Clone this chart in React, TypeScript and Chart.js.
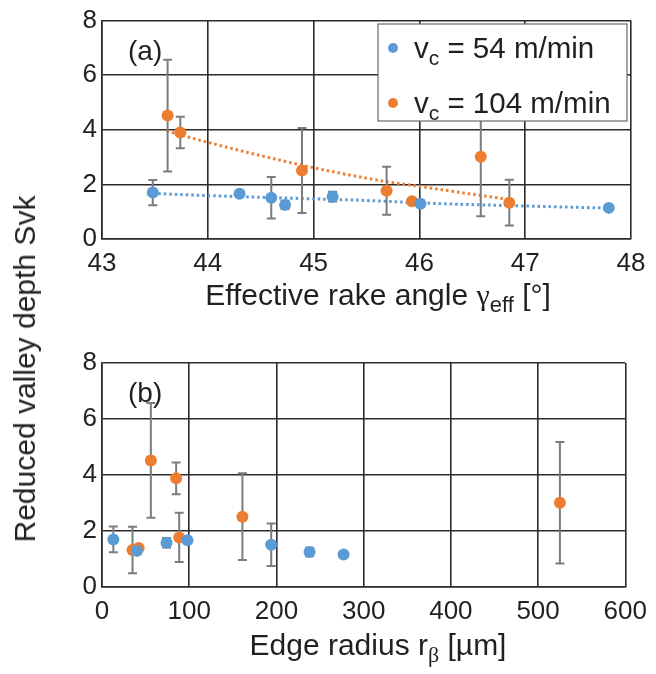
import React, { useEffect, useRef } from "react";
import { Chart, registerables } from "chart.js";

Chart.register(...registerables);

const FONT = '"Liberation Sans", Arial, Helvetica, sans-serif';
const SERIF = '"Liberation Serif", "Times New Roman", serif';
const TXT = "#231f20";
const GRID = "#2b2b2b";
const BLUE = "#5b9bd5";
const ORANGE = "#ed7d31";
const ERR = "#7a7d80";

// ---------- Panel (a): effective rake angle ----------
const rakeTicks = [43, 44, 45, 46, 47, 48];
const rakeBlueX = [43.48, 44.3, 44.6, 44.73, 45.18, 46.01, 47.79];
const rakeBlueY = [1.7, 1.66, 1.51, 1.25, 1.55, 1.29, 1.14];
const rakeBlueErr = [0.46, 0.05, 0.76, 0.15, 0.18, 0.12, 0.04];
const rakeOrangeX = [43.62, 43.74, 44.89, 45.69, 45.93, 46.58, 46.85];
const rakeOrangeY = [4.52, 3.9, 2.51, 1.77, 1.38, 3.01, 1.33];
const rakeOrangeErr = [2.05, 0.58, 1.56, 0.88, 0.08, 2.18, 0.84];
const rakeBlueTrendX = [43.48, 43.92, 44.4, 45.44, 46.29, 47.79];
const rakeBlueTrendY = [1.67, 1.6, 1.54, 1.42, 1.28, 1.13];
const rakeOrangeTrendX = [43.61, 43.99, 44.87, 45.44, 45.66, 46.0, 46.29, 46.84];
const rakeOrangeTrendY = [3.96, 3.55, 2.72, 2.27, 2.12, 1.93, 1.76, 1.45];

// ---------- Panel (b): edge radius ----------
const radiusTicks = [0, 100, 200, 300, 400, 500, 600];
const radiusBlueX = [13, 40, 74, 98, 194, 238, 277];
const radiusBlueY = [1.7, 1.29, 1.58, 1.67, 1.51, 1.25, 1.16];
const radiusBlueErr = [0.46, 0.12, 0.17, 0.05, 0.76, 0.15, 0.04];
const radiusOrangeX = [35, 42, 56, 85, 88.5, 161, 525];
const radiusOrangeY = [1.32, 1.39, 4.52, 3.88, 1.77, 2.51, 3.01];
const radiusOrangeErr = [0.83, 0.08, 2.05, 0.57, 0.88, 1.55, 2.17];

const yTicks = [0, 2, 4, 6, 8];
const legendLabels = [" = 54 m/min", " = 104 m/min"];

const pts = (xs: number[], ys: number[]) => xs.map((x, i) => ({ x, y: ys[i] }));

type Part = { t: string; sub?: boolean; serif?: boolean };

function drawRich(ctx: CanvasRenderingContext2D, parts: Part[], x: number, y: number, size: number, align: "left" | "center") {
  const fontOf = (p: Part) => `${p.sub ? Math.round(size * 0.72) : size}px ${p.serif ? SERIF : FONT}`;
  const widths = parts.map((p) => {
    ctx.font = fontOf(p);
    return ctx.measureText(p.t).width;
  });
  const total = widths.reduce((a, b) => a + b, 0);
  let cx = align === "center" ? x - total / 2 : x;
  ctx.textAlign = "left";
  ctx.textBaseline = "alphabetic";
  parts.forEach((p, i) => {
    ctx.font = fontOf(p);
    ctx.fillText(p.t, cx, p.sub ? y + size * 0.24 : y);
    cx += widths[i];
  });
}

const errorBarPlugin = {
  id: "errorBars",
  beforeDatasetDraw(chart: any, args: any) {
    const ds = chart.data.datasets[args.index];
    if (!ds.errors) return;
    const ctx = chart.ctx as CanvasRenderingContext2D;
    const ys = chart.scales.y;
    ctx.save();
    ctx.strokeStyle = ERR;
    ctx.lineWidth = 2;
    args.meta.data.forEach((el: any, i: number) => {
      const v = ds.data[i].y;
      const e = ds.errors[i];
      const top = ys.getPixelForValue(v + e);
      const bot = ys.getPixelForValue(v - e);
      const x = el.x;
      ctx.beginPath();
      ctx.moveTo(x, top);
      ctx.lineTo(x, bot);
      ctx.moveTo(x - 4.5, top);
      ctx.lineTo(x + 4.5, top);
      ctx.moveTo(x - 4.5, bot);
      ctx.lineTo(x + 4.5, bot);
      ctx.stroke();
    });
    ctx.restore();
  },
};

const decorPlugin = {
  id: "decor",
  afterDraw(chart: any) {
    const opts = chart.options.plugins.decor;
    if (!opts) return;
    const ctx = chart.ctx as CanvasRenderingContext2D;
    const area = chart.chartArea;
    ctx.save();
    ctx.fillStyle = TXT;
    // panel label
    ctx.font = `28px ${FONT}`;
    ctx.textAlign = "left";
    ctx.textBaseline = "alphabetic";
    ctx.fillText(opts.panel, area.left + 26, area.top + 39);
    // axis title
    drawRich(ctx, opts.title, opts.titleX, opts.titleY, 30, "center");
    // legend
    if (opts.legend) {
      const bx = 378, by = 24, bw = 249, bh = 97;
      ctx.fillStyle = "#ffffff";
      ctx.fillRect(bx, by, bw, bh);
      ctx.strokeStyle = "#6b6b6b";
      ctx.lineWidth = 1.2;
      ctx.strokeRect(bx, by, bw, bh);
      const colors = [BLUE, ORANGE];
      legendLabels.forEach((lab, i) => {
        const cy = by + 24 + i * 55;
        ctx.fillStyle = colors[i];
        ctx.beginPath();
        ctx.arc(bx + 15, cy, 5, 0, Math.PI * 2);
        ctx.fill();
        ctx.fillStyle = TXT;
        drawRich(ctx, [{ t: "v" }, { t: "c", sub: true }, { t: lab }], bx + 36, cy + 10, 29.5, "left");
      });
    }
    ctx.restore();
  },
};

function buildConfig(opts: {
  blue: { x: number; y: number }[];
  blueErr: number[];
  orange: { x: number; y: number }[];
  orangeErr: number[];
  blueTrend?: { x: number; y: number }[];
  orangeTrend?: { x: number; y: number }[];
  xmin: number;
  xmax: number;
  xstep: number;
  xAxisHeight: number;
  padding: { left: number; right: number; top: number; bottom: number };
  decor: any;
}): any {
  const datasets: any[] = [
    {
      type: "scatter",
      label: "vc = 54 m/min",
      data: opts.blue,
      errors: opts.blueErr,
      backgroundColor: BLUE,
      borderColor: BLUE,
      pointRadius: 6,
      pointBorderWidth: 0,
    },
    {
      type: "scatter",
      label: "vc = 104 m/min",
      data: opts.orange,
      errors: opts.orangeErr,
      backgroundColor: ORANGE,
      borderColor: ORANGE,
      pointRadius: 6,
      pointBorderWidth: 0,
    },
  ];
  if (opts.blueTrend) {
    datasets.push({
      type: "line",
      label: "trend 54",
      data: opts.blueTrend,
      borderColor: BLUE,
      borderWidth: 3,
      borderDash: [2.5, 3],
      pointRadius: 0,
      tension: 0,
      fill: false,
    });
  }
  if (opts.orangeTrend) {
    datasets.push({
      type: "line",
      label: "trend 104",
      data: opts.orangeTrend,
      borderColor: ORANGE,
      borderWidth: 3,
      borderDash: [2.5, 3],
      pointRadius: 0,
      cubicInterpolationMode: "monotone",
      fill: false,
    });
  }
  const axisCommon = {
    grid: { color: GRID, lineWidth: 1.6, drawTicks: false },
    border: { color: GRID, width: 1.6 },
  };
  return {
    type: "scatter",
    data: { datasets },
    plugins: [errorBarPlugin, decorPlugin],
    options: {
      animation: false,
      responsive: false,
      events: [],
      layout: { padding: opts.padding },
      plugins: {
        legend: { display: false },
        tooltip: { enabled: false },
        decor: opts.decor,
      },
      scales: {
        x: {
          type: "linear",
          min: opts.xmin,
          max: opts.xmax,
          ...axisCommon,
          ticks: {
            stepSize: opts.xstep,
            font: { size: 26, family: FONT },
            color: TXT,
            padding: 9,
            maxRotation: 0,
            autoSkip: false,
          },
          afterFit: (s: any) => {
            s.height = opts.xAxisHeight;
          },
        },
        y: {
          type: "linear",
          min: yTicks[0],
          max: yTicks[yTicks.length - 1],
          ...axisCommon,
          ticks: {
            stepSize: 2,
            font: { size: 26, family: FONT },
            color: TXT,
            padding: 5,
          },
          afterFit: (s: any) => {
            s.width = 102;
          },
        },
      },
    },
  };
}

function ChartCanvas({ config, width, height, top }: { config: any; width: number; height: number; top: number }) {
  const ref = useRef<HTMLCanvasElement | null>(null);
  useEffect(() => {
    if (!ref.current) return;
    const chart = new Chart(ref.current, config);
    return () => chart.destroy();
  }, []);
  return (
    <canvas
      ref={ref}
      width={width}
      height={height}
      style={{ position: "absolute", left: 0, top, width, height }}
    />
  );
}

export default function App() {
  const topConfig = buildConfig({
    blue: pts(rakeBlueX, rakeBlueY),
    blueErr: rakeBlueErr,
    orange: pts(rakeOrangeX, rakeOrangeY),
    orangeErr: rakeOrangeErr,
    blueTrend: pts(rakeBlueTrendX, rakeBlueTrendY),
    orangeTrend: pts(rakeOrangeTrendX, rakeOrangeTrendY),
    xmin: rakeTicks[0],
    xmax: rakeTicks[rakeTicks.length - 1],
    xstep: 1,
    xAxisHeight: 330 - 239,
    padding: { left: 0, right: 25, top: 17, bottom: 0 },
    decor: {
      panel: "(a)",
      title: [{ t: "Effective rake angle " }, { t: "γ", serif: true }, { t: "eff", sub: true }, { t: " [°]" }],
      titleX: 378,
      titleY: 305,
      legend: true,
    },
  });
  const bottomConfig = buildConfig({
    blue: pts(radiusBlueX, radiusBlueY),
    blueErr: radiusBlueErr,
    orange: pts(radiusOrangeX, radiusOrangeY),
    orangeErr: radiusOrangeErr,
    xmin: radiusTicks[0],
    xmax: radiusTicks[radiusTicks.length - 1],
    xstep: 100,
    xAxisHeight: 344 - 257,
    padding: { left: 0, right: 27, top: 33, bottom: 0 },
    decor: {
      panel: "(b)",
      title: [{ t: "Edge radius r" }, { t: "β", sub: true, serif: true }, { t: " [µm]" }],
      titleX: 378,
      titleY: 325,
      legend: false,
    },
  });
  return (
    <div style={{ position: "absolute", left: 0, top: 0, width: 656, height: 674, background: "#ffffff", overflow: "hidden" }}>
      <ChartCanvas config={topConfig} width={656} height={330} top={0} />
      <ChartCanvas config={bottomConfig} width={656} height={344} top={330} />
      <div
        style={{
          position: "absolute",
          left: 25,
          top: 369,
          transform: "translate(-50%, -50%) rotate(-90deg)",
          whiteSpace: "nowrap",
          font: `30px ${FONT}`,
          color: TXT,
        }}
      >
        Reduced valley depth Svk
      </div>
    </div>
  );
}
